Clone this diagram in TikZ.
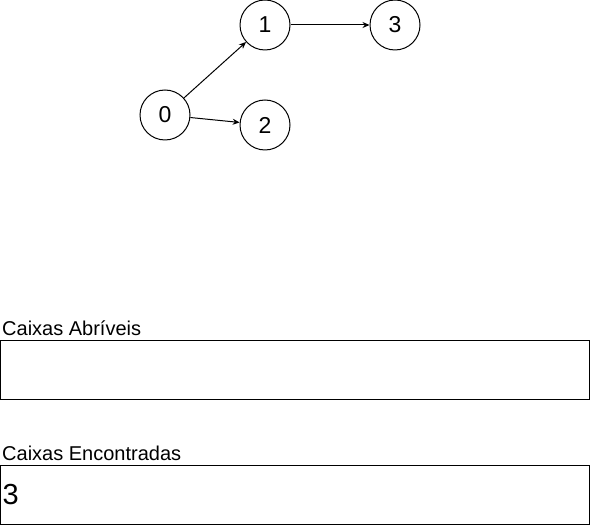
\documentclass[tikz,border=0pt]{standalone}
\usepackage{fontspec}
\setmainfont{Liberation Sans}
\usetikzlibrary{arrows.meta,positioning}
\tikzset{
  vertex/.style={draw,circle,minimum size=50pt,inner sep=0pt,line width=1pt,
    font=\fontsize{23}{27}\selectfont},
  edge/.style={-{Stealth[length=7pt,width=6pt]},line width=1pt},
  listbox/.style={draw,line width=1pt,minimum width=589pt,minimum height=59pt,
    inner sep=0pt,outer sep=0pt,anchor=north west},
  boxlabel/.style={anchor=base west,inner sep=0pt,font=\fontsize{20}{24}\selectfont},
  boxcontent/.style={anchor=west,inner sep=0pt,font=\fontsize{29}{33}\selectfont}
}
\begin{document}
\begin{tikzpicture}[x=1pt,y=-1pt]
  \useasboundingbox (0,0) rectangle (591,526);
  % graph
  \node[vertex] (v0) at (165,115) {0};
  \node[vertex] (v1) at (265,25) {1};
  \node[vertex] (v2) at (265,125) {2};
  \node[vertex] (v3) at (395,25) {3};
  \draw[edge] (v0)--(v1);
  \draw[edge] (v0)--(v2);
  \draw[edge] (v1)--(v3);
  % lists
  \node[boxlabel] (openlbl) at (2,335) {Caixas Abríveis};
  \node[listbox] (openbox) at (0.5,340.5) {};
  \node[boxlabel] (foundlbl) at (2,460) {Caixas Encontradas};
  \node[listbox] (foundbox) at (0.5,465.5) {};
  \node[boxcontent,right=2pt of foundbox.west] (found) {3};
\end{tikzpicture}
\end{document}
